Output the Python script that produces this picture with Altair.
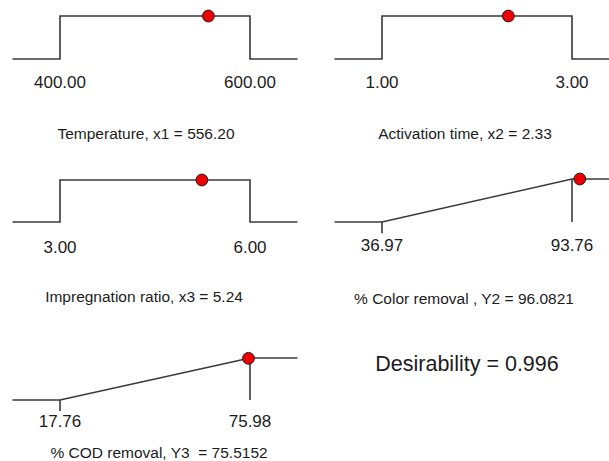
import altair as alt
import pandas as pd

# ---- data ----
names = ["Temperature, x1", "Activation time, x2", "Impregnation ratio, x3",
         "% Color removal , Y2", "% COD removal, Y3\u00a0"]
lows = [400.00, 1.00, 3.00, 36.97, 17.76]
highs = [600.00, 3.00, 6.00, 93.76, 75.98]
values = [556.20, 2.33, 5.24, 96.0821, 75.5152]
value_labels = ["556.20", "2.33", "5.24", "96.0821", "75.5152"]
desirabilities = [1.0, 1.0, 1.0, 1.0, 0.992]
goals = ["range", "range", "range", "maximize", "maximize"]
overall_desirability = "0.996"

# ---- layout (pixels) ----
x_px = [(60, 250), (382, 572), (60, 250), (382, 572), (60, 250)]
y_px = [(59, 16), (59, 16), (222, 180), (222, 179), (400, 358)]
label_y = [88, 88, 252.5, 251, 427]
title_xy = [(146, 139), (465, 139), (144, 302), (464, 304), (159, 458)]
desir_xy = (467, 371)

LINE = "#3a3a3a"
TEXT = "#1c1c1c"
FONT = "Liberation Sans"

layers = []
for i in range(5):
    lo, hi = lows[i], highs[i]
    ext = 0.25 * (hi - lo)
    xs = alt.Scale(domain=[lo, hi], range=list(x_px[i]), zero=False, nice=False)
    ys = alt.Scale(domain=[0, 1], range=list(y_px[i]), zero=False, nice=False)
    X = alt.X("x:Q", scale=xs, axis=None)
    Y = alt.Y("d:Q", scale=ys, axis=None)

    if goals[i] == "range":
        px = [lo - ext, lo, lo, hi, hi, hi + ext]
        py = [0, 0, 1, 1, 0, 0]
    else:
        px = [lo - ext, lo, hi, hi + ext]
        py = [0, 0, 1, 1]
    line_df = pd.DataFrame({"x": px, "d": py, "i": list(range(len(px)))})
    layers.append(
        alt.Chart(line_df).mark_line(color=LINE, strokeWidth=1.6)
        .encode(x=X, y=Y, order=alt.Order("i:Q"))
    )

    if goals[i] == "maximize":
        rule_df = pd.DataFrame({"x": [hi, lo], "d": [0.0, 0.0], "d2": [1.0, -0.26]})
        layers.append(
            alt.Chart(rule_df).mark_rule(color=LINE, strokeWidth=1.6)
            .encode(x=X, y=Y, y2="d2:Q")
        )

    dot_df = pd.DataFrame({"x": [values[i]], "d": [desirabilities[i]]})
    layers.append(
        alt.Chart(dot_df).mark_circle(size=140, color="#ee0000", opacity=1,
                                      stroke="#222222", strokeWidth=1)
        .encode(x=X, y=Y)
    )

    lab_df = pd.DataFrame({"x": [lo, hi], "t": [f"{lo:.2f}", f"{hi:.2f}"]})
    layers.append(
        alt.Chart(lab_df).mark_text(fontSize=17, font=FONT, color=TEXT,
                                    align="center", baseline="alphabetic")
        .encode(x=X, y=alt.value(label_y[i]), text="t:N")
    )

    title_df = pd.DataFrame({"t": [f"{names[i]} = {value_labels[i]}"]})
    layers.append(
        alt.Chart(title_df).mark_text(fontSize=15.5, font=FONT, color=TEXT,
                                      align="center", baseline="alphabetic")
        .encode(x=alt.value(title_xy[i][0]), y=alt.value(title_xy[i][1]), text="t:N")
    )

desir_df = pd.DataFrame({"t": [f"Desirability = {overall_desirability}"]})
layers.append(
    alt.Chart(desir_df).mark_text(fontSize=21.5, font=FONT, color=TEXT,
                                  align="center", baseline="alphabetic")
    .encode(x=alt.value(desir_xy[0]), y=alt.value(desir_xy[1]), text="t:N")
)

chart = (
    alt.layer(*layers)
    .resolve_scale(x="independent", y="independent")
    .properties(width=609, height=461, padding=0,
                autosize=alt.AutoSizeParams(type="none"), background="white")
    .configure_view(stroke=None)
)

chart.save("out.html", embed_options={"renderer": "svg", "actions": False})
